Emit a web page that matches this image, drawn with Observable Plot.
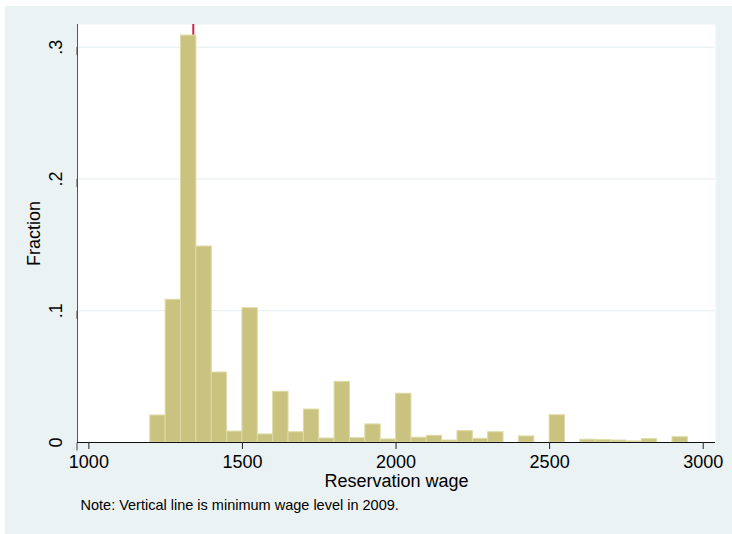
<!DOCTYPE html>
<html>
<head>
<meta charset="utf-8">
<script src="https://cdn.jsdelivr.net/npm/d3@7"></script>
<script src="https://cdn.jsdelivr.net/npm/@observablehq/plot@0.6"></script>
<style>
  html, body { margin: 0; padding: 0; background: #ffffff; }
  #chart { position: absolute; left: 5px; top: 6px; }
</style>
</head>
<body>
<div id="chart"></div>
<script>
// Histogram of reservation wages (bin width 50), share of respondents per bin
const binStarts = [1200, 1250, 1300, 1350, 1400, 1450, 1500, 1550, 1600, 1650,
                   1700, 1750, 1800, 1850, 1900, 1950, 2000, 2050, 2100, 2150,
                   2200, 2250, 2300, 2350, 2400, 2450, 2500, 2550, 2600, 2650,
                   2700, 2750, 2800, 2850, 2900];
const fractions = [0.0205, 0.1083, 0.3088, 0.1487, 0.0531, 0.0083, 0.1019, 0.0061, 0.0385, 0.0078,
                   0.0250, 0.0030, 0.0460, 0.0033, 0.0137, 0.0023, 0.0370, 0.0036, 0.0051, 0.0015,
                   0.0086, 0.0028, 0.0078, 0, 0.0046, 0, 0.0207, 0, 0.0021, 0.0018,
                   0.0015, 0.0008, 0.0025, 0, 0.0040];
const binWidth = 50;
const minimumWage = 1340;
const xTicks = [1000, 1500, 2000, 2500, 3000];
const yTicks = [0, 0.1, 0.2, 0.3];
const gridTicks = [0.1, 0.2, 0.3];
const xTitle = "Reservation wage";
const yTitle = "Fraction";
const noteText = "Note: Vertical line is minimum wage level in 2009.";

const bins = binStarts
  .map((start, i) => ({x1: start, x2: start + binWidth, fraction: fractions[i]}))
  .filter(d => d.fraction > 0);

const font = "'Liberation Sans', Arial, Helvetica, sans-serif";
const fmtY = d => d === 0 ? "0" : d3.format(".1f")(d).replace(/^0/, "");

const chart = Plot.plot({
  width: 727,
  height: 528,
  marginLeft: 72,
  marginTop: 18,
  marginRight: 17,
  marginBottom: 92,
  style: {background: "#eaf2f3", fontFamily: font, color: "#000", overflow: "visible"},
  x: {domain: [963, 3040]},
  y: {domain: [0, 0.3172]},
  marks: [
    Plot.frame({fill: "#ffffff", stroke: null}),
    Plot.ruleY(gridTicks, {stroke: "#e4ecef", strokeWidth: 1}),
    Plot.ruleX([minimumWage], {stroke: "#c9234a", strokeWidth: 2}),
    Plot.rectY(bins, {x1: "x1", x2: "x2", y: "fraction", fill: "#c9c37f",
                      stroke: "#dedaa6", strokeWidth: 1, inset: 0}),
    Plot.ruleX([963], {stroke: "#555555", strokeWidth: 1}),
    Plot.ruleY([0], {stroke: "#111111", strokeWidth: 1}),
    Plot.axisX({ticks: xTicks, tickSize: 7, tickPadding: 6, fontSize: 18,
                tickFormat: d3.format("d"), label: null, stroke: "#222"}),
    Plot.axisY({ticks: yTicks, tickSize: 8, tickPadding: 8, fontSize: 18,
                tickFormat: fmtY, rotate: -90, textAnchor: "middle",
                lineAnchor: "bottom", label: null, stroke: "#444"}),
    Plot.text([xTitle], {frameAnchor: "bottom", dy: 44.7, lineAnchor: "bottom",
                         fontSize: 18, fill: "#000"}),
    Plot.text([yTitle], {frameAnchor: "left", dx: -37.5, rotate: -90,
                         textAnchor: "middle", lineAnchor: "bottom",
                         fontSize: 18, fill: "#000"}),
    Plot.text([noteText], {frameAnchor: "bottom-left", dx: 3, dy: 67,
                           textAnchor: "start", lineAnchor: "bottom",
                           fontSize: 14.5, fill: "#000"})
  ]
});

document.getElementById("chart").append(chart);
</script>
</body>
</html>
